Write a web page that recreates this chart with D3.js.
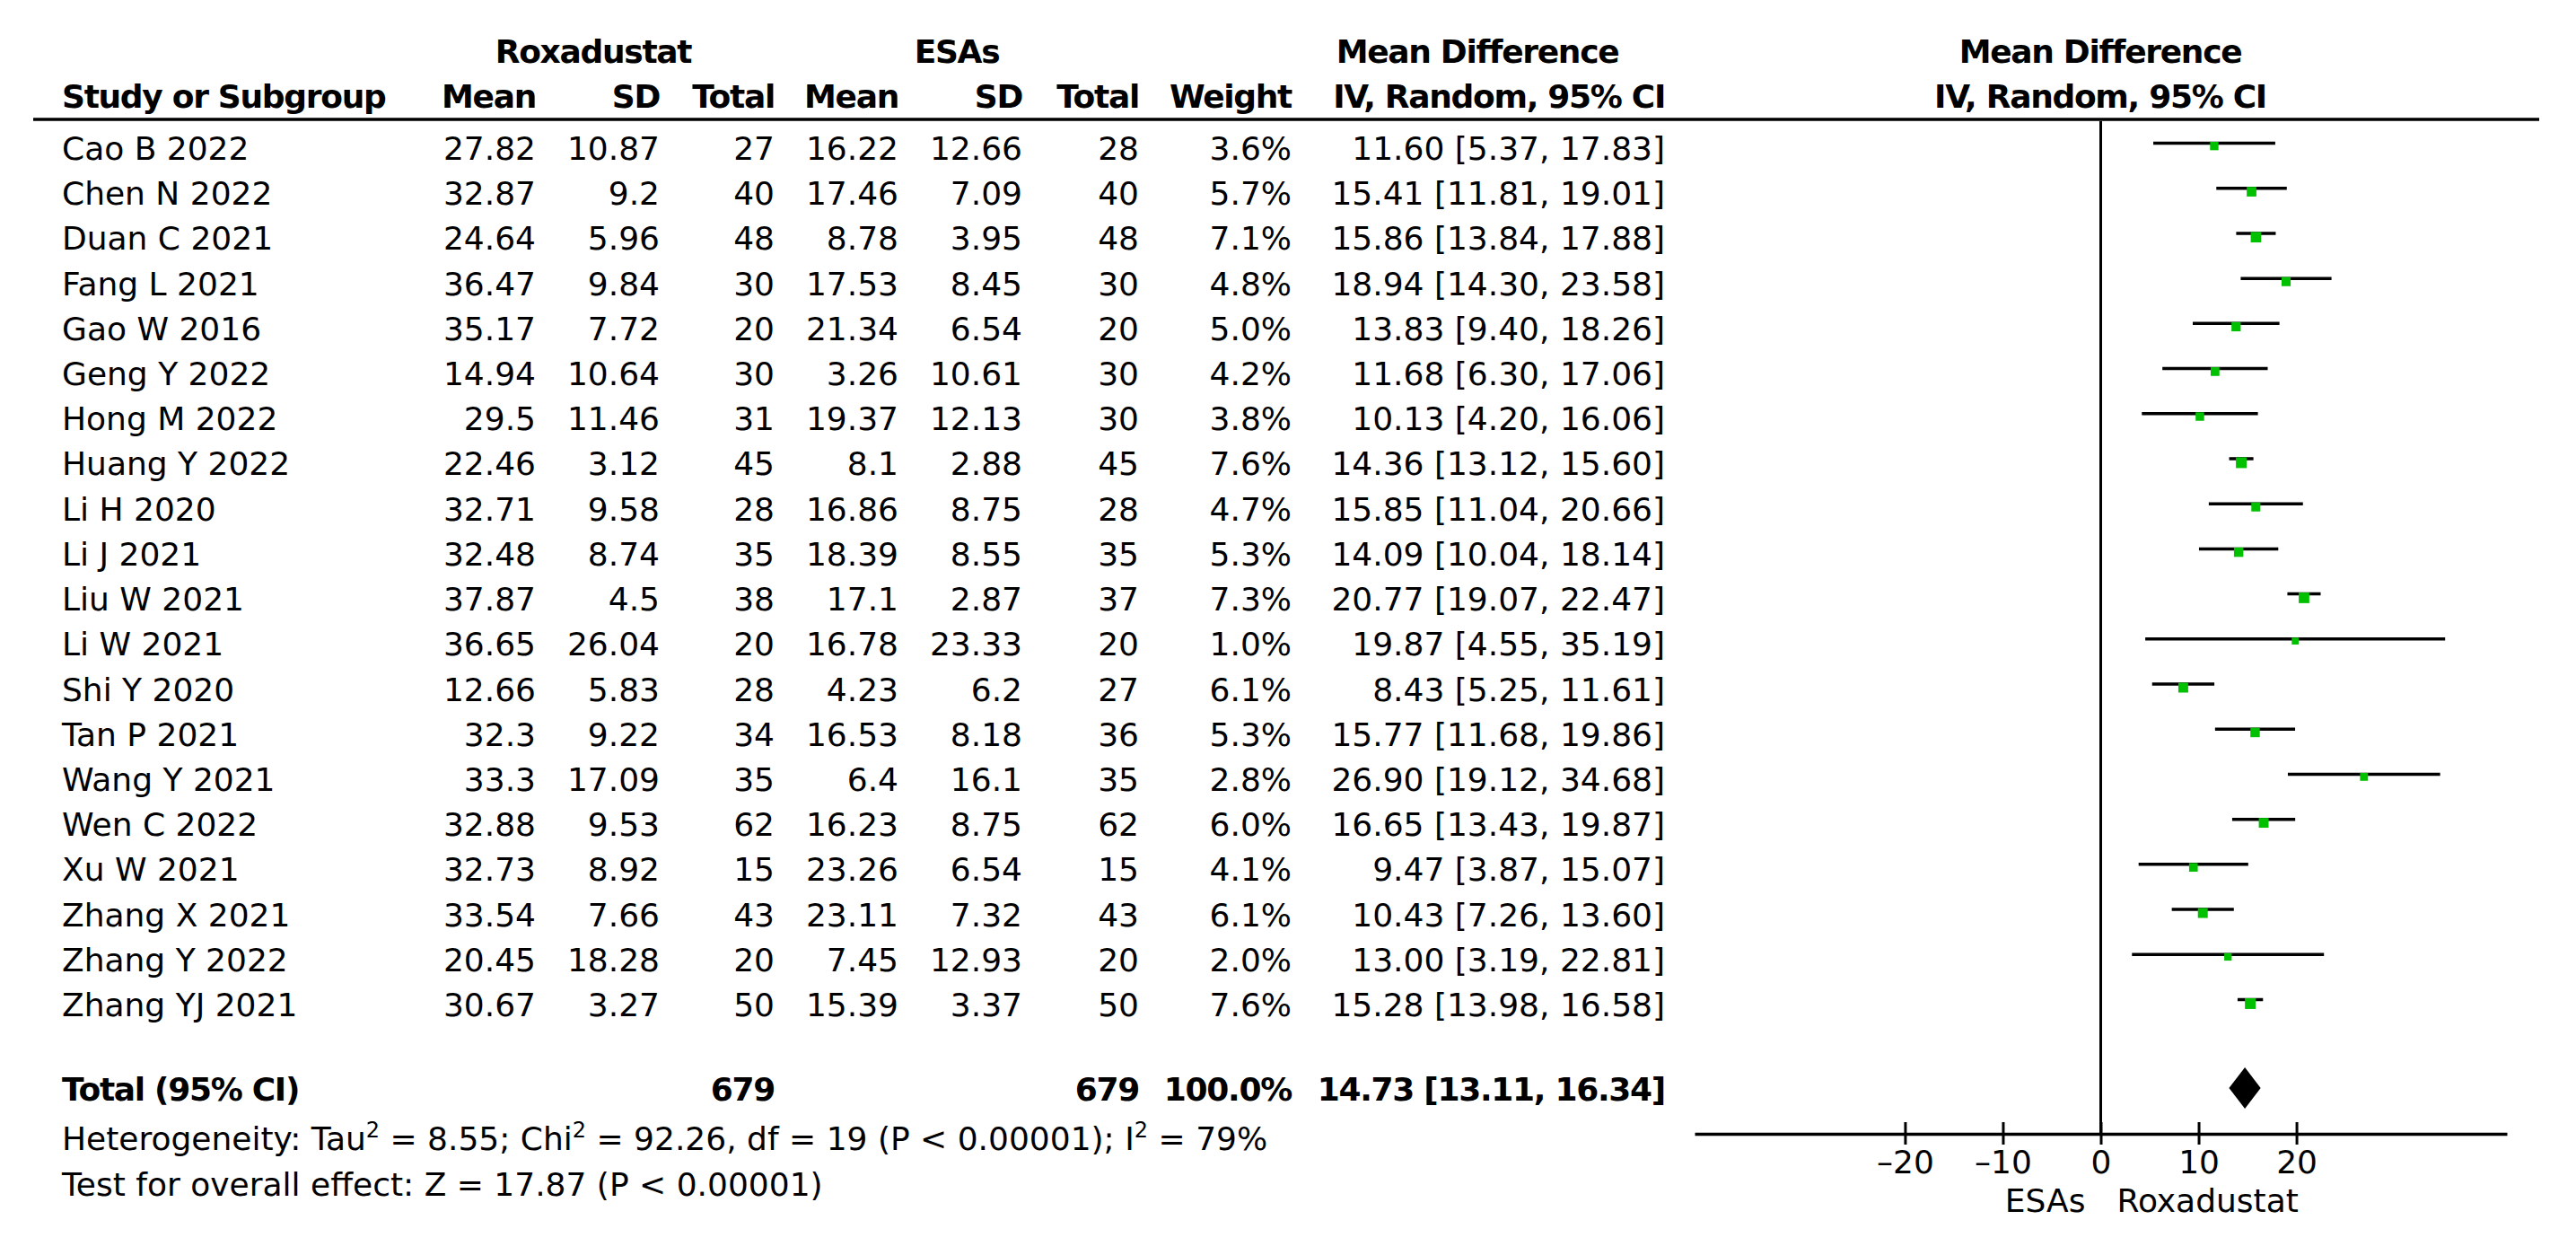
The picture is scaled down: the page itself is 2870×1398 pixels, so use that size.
<!DOCTYPE html>
<html>
<head>
<meta charset="utf-8">
<script src="https://cdn.jsdelivr.net/npm/d3@7"></script>
<style>
  body { margin: 0; background: #fff; }
  text { font-family: "DejaVu Sans", sans-serif; fill: #000; }
</style>
</head>
<body>
<div id="forest"></div>
<script>
// Study data
var studies = ["Cao B 2022", "Chen N 2022", "Duan C 2021", "Fang L 2021", "Gao W 2016",
  "Geng Y 2022", "Hong M 2022", "Huang Y 2022", "Li H 2020", "Li J 2021", "Liu W 2021",
  "Li W 2021", "Shi Y 2020", "Tan P 2021", "Wang Y 2021", "Wen C 2022", "Xu W 2021",
  "Zhang X 2021", "Zhang Y 2022", "Zhang YJ 2021"];
var roxMean = [27.82, 32.87, 24.64, 36.47, 35.17, 14.94, 29.5, 22.46, 32.71, 32.48, 37.87,
  36.65, 12.66, 32.3, 33.3, 32.88, 32.73, 33.54, 20.45, 30.67];
var roxSD = [10.87, 9.2, 5.96, 9.84, 7.72, 10.64, 11.46, 3.12, 9.58, 8.74, 4.5,
  26.04, 5.83, 9.22, 17.09, 9.53, 8.92, 7.66, 18.28, 3.27];
var roxTotal = [27, 40, 48, 30, 20, 30, 31, 45, 28, 35, 38, 20, 28, 34, 35, 62, 15, 43, 20, 50];
var esaMean = [16.22, 17.46, 8.78, 17.53, 21.34, 3.26, 19.37, 8.1, 16.86, 18.39, 17.1,
  16.78, 4.23, 16.53, 6.4, 16.23, 23.26, 23.11, 7.45, 15.39];
var esaSD = [12.66, 7.09, 3.95, 8.45, 6.54, 10.61, 12.13, 2.88, 8.75, 8.55, 2.87,
  23.33, 6.2, 8.18, 16.1, 8.75, 6.54, 7.32, 12.93, 3.37];
var esaTotal = [28, 40, 48, 30, 20, 30, 30, 45, 28, 35, 37, 20, 27, 36, 35, 62, 15, 43, 20, 50];
var weights = [3.6, 5.7, 7.1, 4.8, 5.0, 4.2, 3.8, 7.6, 4.7, 5.3, 7.3, 1.0, 6.1, 5.3, 2.8,
  6.0, 4.1, 6.1, 2.0, 7.6];
var md = [11.60, 15.41, 15.86, 18.94, 13.83, 11.68, 10.13, 14.36, 15.85, 14.09, 20.77,
  19.87, 8.43, 15.77, 26.90, 16.65, 9.47, 10.43, 13.00, 15.28];
var ciLow = [5.37, 11.81, 13.84, 14.30, 9.40, 6.30, 4.20, 13.12, 11.04, 10.04, 19.07,
  4.55, 5.25, 11.68, 19.12, 13.43, 3.87, 7.26, 3.19, 13.98];
var ciHigh = [17.83, 19.01, 17.88, 23.58, 18.26, 17.06, 16.06, 15.60, 20.66, 18.14, 22.47,
  35.19, 11.61, 19.86, 34.68, 19.87, 15.07, 13.60, 22.81, 16.58];

// pooled estimate
var totalRox = 679, totalEsa = 679;
var pooled = { md: 14.73, lo: 13.11, hi: 16.34 };
var axisTicks = [-20, -10, 0, 10, 20];

var svgWidth = 2870;
var svgHeight = 1398;
var fontSize = 36;

var svg = d3.select("#forest")
  .append("svg")
  .attr("width", svgWidth)
  .attr("height", svgHeight);

// rows and plot scales
var rowScale = d3.scaleLinear().domain([0, studies.length - 1]).range([178, 1132]);
var totalY = 1226;
var xScale = d3.scaleLinear().domain([-41.5, 41.5]).range([1888, 2793]);
var axisY = 1263;

var rows = studies.map(function(s, i) {
  return {
    name: s, rm: roxMean[i], rsd: roxSD[i], rn: roxTotal[i],
    em: esaMean[i], esd: esaSD[i], en: esaTotal[i],
    w: weights[i], md: md[i], lo: ciLow[i], hi: ciHigh[i], i: i
  };
});

// column layout: right-aligned anchors
var columns = [
  { x: 597, f: d => d.rm },
  { x: 735, f: d => d.rsd },
  { x: 863, f: d => d.rn },
  { x: 1001, f: d => d.em },
  { x: 1139, f: d => d.esd },
  { x: 1269, f: d => d.en },
  { x: 1439, f: d => d.w.toFixed(1) + "%" },
  { x: 1855, f: d => d.md.toFixed(2) + " [" + d.lo.toFixed(2) + ", " + d.hi.toFixed(2) + "]" }
];

function txt(x, y, s, anchor, bold) {
  return svg.append("text")
    .attr("x", x).attr("y", y)
    .attr("text-anchor", anchor || "start")
    .attr("font-size", fontSize)
    .attr("font-weight", bold ? "bold" : "normal")
    .attr("letter-spacing", bold ? -1.3 : null)
    .text(s);
}

// headers
txt(661, 70, "Roxadustat", "middle", true);
txt(1066, 70, "ESAs", "middle", true);
txt(1646, 70, "Mean Difference", "middle", true);
txt(2340, 70, "Mean Difference", "middle", true);
txt(69, 120, "Study or Subgroup", "start", true);
["Mean", "SD", "Total", "Mean", "SD", "Total", "Weight", "IV, Random, 95% CI"].forEach(function(h, k) {
  txt(columns[k].x, 120, h, "end", true);
});
txt(2340, 120, "IV, Random, 95% CI", "middle", true);

svg.append("line")
  .attr("x1", 37).attr("x2", 2829)
  .attr("y1", 133).attr("y2", 133)
  .attr("stroke", "#000").attr("stroke-width", 3.5);

// study rows
var rowG = svg.selectAll("g.row")
  .data(rows)
  .enter()
  .append("g")
  .attr("class", "row");

rowG.append("text")
  .attr("x", 69)
  .attr("y", d => rowScale(d.i))
  .attr("font-size", fontSize)
  .text(d => d.name);

columns.forEach(function(c) {
  rowG.append("text")
    .attr("x", c.x)
    .attr("y", d => rowScale(d.i))
    .attr("text-anchor", "end")
    .attr("font-size", fontSize)
    .text(c.f);
});

// zero line
svg.append("line")
  .attr("x1", xScale(0)).attr("x2", xScale(0))
  .attr("y1", 135).attr("y2", axisY)
  .attr("stroke", "#000").attr("stroke-width", 3);

// CI lines and squares
rowG.append("line")
  .attr("x1", d => xScale(d.lo))
  .attr("x2", d => xScale(d.hi))
  .attr("y1", d => rowScale(d.i) - 18.5)
  .attr("y2", d => rowScale(d.i) - 18.5)
  .attr("stroke", "#000")
  .attr("stroke-width", 3.5);

var side = d => 7 + 0.65 * d.w;
rowG.append("rect")
  .attr("x", d => xScale(d.md) - side(d) / 2)
  .attr("y", d => rowScale(d.i) - 20)
  .attr("width", side)
  .attr("height", side)
  .attr("fill", "#00c000");

// total row
txt(69, totalY, "Total (95% CI)", "start", true);
txt(columns[2].x, totalY, totalRox, "end", true);
txt(columns[5].x, totalY, totalEsa, "end", true);
txt(columns[6].x, totalY, "100.0%", "end", true);
txt(columns[7].x, totalY,
  pooled.md.toFixed(2) + " [" + pooled.lo.toFixed(2) + ", " + pooled.hi.toFixed(2) + "]", "end", true);

var dy = totalY - 14;
svg.append("path")
  .attr("d", `M${xScale(pooled.lo)},${dy} L${xScale(pooled.md)},${dy - 23} L${xScale(pooled.hi)},${dy} L${xScale(pooled.md)},${dy + 23} Z`)
  .attr("fill", "#000");

// footnotes
var het = txt(69, 1281, "Heterogeneity: Tau", "start", false);
het.append("tspan").attr("dy", -14).attr("font-size", 24).text("2");
het.append("tspan").attr("dy", 14).text(" = 8.55; Chi");
het.append("tspan").attr("dy", -14).attr("font-size", 24).text("2");
het.append("tspan").attr("dy", 14).text(" = 92.26, df = 19 (P < 0.00001); I");
het.append("tspan").attr("dy", -14).attr("font-size", 24).text("2");
het.append("tspan").attr("dy", 14).text(" = 79%");
txt(69, 1332, "Test for overall effect: Z = 17.87 (P < 0.00001)", "start", false);

// axis
var xAxis = d3.axisBottom(xScale)
  .tickValues(axisTicks)
  .tickSizeOuter(0)
  .tickFormat(d => d < 0 ? "\u2013" + Math.abs(d) : d);

var axisG = svg.append("g")
  .attr("transform", `translate(0, ${axisY})`)
  .call(xAxis);

axisG.select(".domain").attr("stroke-width", 3.5);
axisG.selectAll(".tick line").attr("y1", -13).attr("y2", 12).attr("stroke-width", 3);
axisG.selectAll(".tick text")
  .attr("y", 44).attr("dy", 0)
  .attr("font-size", fontSize)
  .attr("font-family", "DejaVu Sans");

txt(xScale(0) - 17, 1350, "ESAs", "end", false);
txt(xScale(0) + 18, 1350, "Roxadustat", "start", false);
</script>
</body>
</html>
